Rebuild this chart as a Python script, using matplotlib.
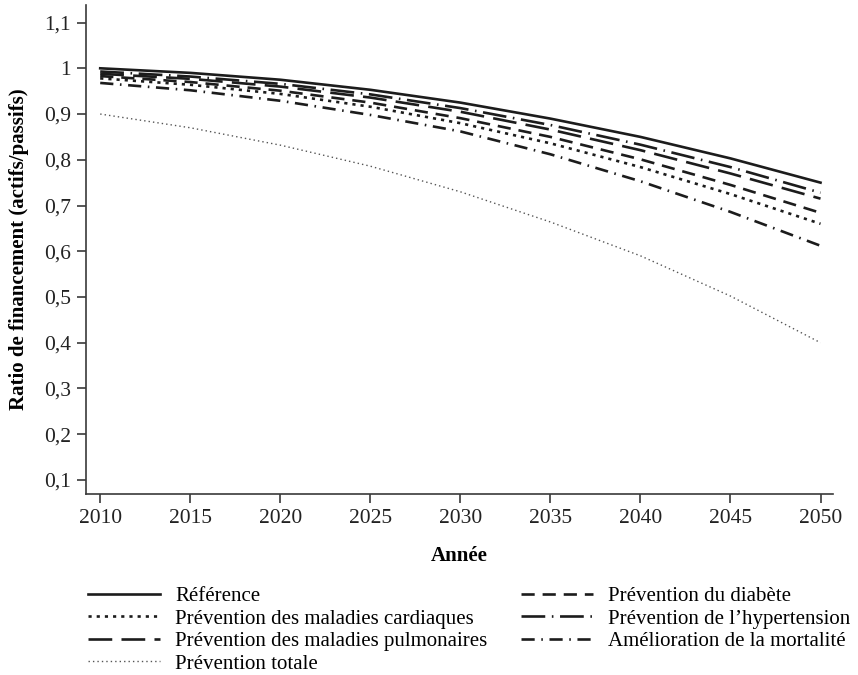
import matplotlib
matplotlib.use("Agg")
import matplotlib.pyplot as plt
from matplotlib.ticker import FuncFormatter, MultipleLocator

plt.rcParams["font.family"] = ["Liberation Serif", "DejaVu Serif"]

years = [2010, 2015, 2020, 2025, 2030, 2035, 2040, 2045, 2050]

reference = [1.000, 0.990, 0.975, 0.953, 0.925, 0.890, 0.850, 0.803, 0.750]
hypertension = [0.993, 0.982, 0.966, 0.943, 0.913, 0.876, 0.833, 0.784, 0.728]
pulmonaires = [0.988, 0.977, 0.960, 0.936, 0.905, 0.866, 0.821, 0.770, 0.715]
diabete = [0.983, 0.970, 0.951, 0.925, 0.891, 0.850, 0.801, 0.745, 0.684]
cardiaques = [0.978, 0.964, 0.944, 0.916, 0.880, 0.836, 0.784, 0.725, 0.660]
mortalite = [0.968, 0.952, 0.929, 0.898, 0.862, 0.812, 0.753, 0.686, 0.612]
totale = [0.900, 0.870, 0.832, 0.786, 0.730, 0.664, 0.590, 0.502, 0.400]

ink = "#1c1c1c"

fig = plt.figure(figsize=(8.58, 6.75), dpi=100)
ax = fig.add_axes([0.100, 0.268, 0.871, 0.725])

# ordre = ordre de la légende (remplissage par colonnes)
l_ref, = ax.plot(years, reference, color=ink, lw=1.9, label="Référence")
l_card, = ax.plot(years, cardiaques, color=ink, lw=1.9, dashes=(1.2, 1.9),
                  label="Prévention des maladies cardiaques")
l_pulm, = ax.plot(years, pulmonaires, color=ink, lw=1.9, dashes=(9, 3.5),
                  label="Prévention des maladies pulmonaires")
l_tot, = ax.plot(years, totale, color="#555555", lw=1.0, dashes=(1, 2.2),
                 label="Prévention totale")
l_diab, = ax.plot(years, diabete, color=ink, lw=1.9, dashes=(5, 3),
                  label="Prévention du diabète")
l_hyp, = ax.plot(years, hypertension, color=ink, lw=1.9,
                 dashes=(9, 2.5, 0.6, 2.5),
                 label="Prévention de l’hypertension")
l_mort, = ax.plot(years, mortalite, color=ink, lw=1.9,
                  dashes=(5, 2.5, 0.6, 2.5),
                  label="Amélioration de la mortalité")

ax.set_xlim(2009.2, 2050.7)
ax.set_ylim(0.069, 1.139)
ax.xaxis.set_major_locator(MultipleLocator(5))
ax.yaxis.set_major_locator(MultipleLocator(0.1))
ax.yaxis.set_major_formatter(
    FuncFormatter(lambda v, p: f"{round(v, 1):g}".replace(".", ","))
)

for side in ["top", "right"]:
    ax.spines[side].set_visible(False)
for side in ["left", "bottom"]:
    ax.spines[side].set_color("#3a3a3a")
    ax.spines[side].set_linewidth(1.2)

ax.tick_params(axis="both", direction="out", length=6.5, width=1.2,
               color="#3a3a3a", labelsize=15.5, labelcolor="#222222", pad=4)

ax.set_xlabel("Année", fontsize=15, fontweight="bold", labelpad=13)
ax.set_ylabel("Ratio de financement (actifs/passifs)", fontsize=15,
              fontweight="bold", labelpad=11)

fig.legend(handles=[l_ref, l_card, l_pulm, l_tot, l_diab, l_hyp, l_mort],
           loc="upper left", bbox_to_anchor=(0.103, 0.131), ncol=2,
           frameon=False, fontsize=15, handlelength=3.45,
           handletextpad=0.72, columnspacing=1.6, labelspacing=0.14,
           borderaxespad=0, borderpad=0)

fig.savefig("out.png", dpi=100)
